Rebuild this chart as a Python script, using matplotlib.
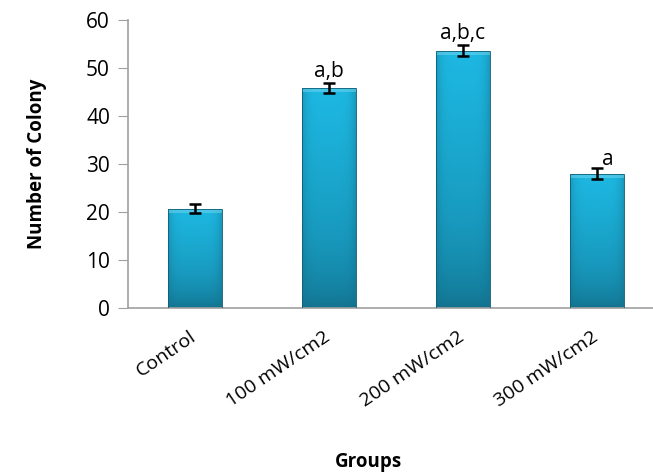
import numpy as np
import matplotlib.pyplot as plt
from matplotlib.colors import LinearSegmentedColormap
from matplotlib.patches import Rectangle
from matplotlib.transforms import offset_copy

# colony counts per group
groups = ['Control', '100 mW/cm2', '200 mW/cm2', '300 mW/cm2']
colonies = [20.7, 45.8, 53.6, 28.0]
errors = [1.0, 1.0, 1.1, 1.1]
letters = ['', 'a,b', 'a,b,c', 'a']

plt.rcParams['font.family'] = ['Open Sans', 'DejaVu Sans']

fig = plt.figure(figsize=(6.53, 4.76), dpi=100)
ax = fig.add_axes([128 / 653, 1 - 308 / 476, 536 / 653, 288 / 476])

x = np.arange(len(groups))
width = 0.4

# gradient fill: lighter at the top, darker toward the base and the edges
cmap = LinearSegmentedColormap.from_list('bar', ['#12708c', '#1898bc', '#1db8e2'])
vert = np.linspace(0, 1, 200)[:, None]
horiz = np.linspace(-1, 1, 60)[None, :]
shade = vert ** 0.6 * (1 - 0.45 * np.abs(horiz) ** 5)

for xi, h in zip(x, colonies):
    # soft drop shadow
    ax.add_patch(Rectangle((xi - width / 2 + 0.012, 0), width, h - 0.3,
                           facecolor='#000000', alpha=0.18, edgecolor='none', zorder=1))
    rect = Rectangle((xi - width / 2, 0), width, h, facecolor='none',
                     edgecolor='#0e5e75', linewidth=0.6, zorder=3)
    ax.add_patch(rect)
    im = ax.imshow(shade, cmap=cmap, vmin=0, vmax=1, origin='lower', aspect='auto',
                   extent=(xi - width / 2, xi + width / 2, 0, h), zorder=2)
    im.set_clip_path(rect)
    # bevel highlight at the top
    ax.add_patch(Rectangle((xi - width / 2, h - 0.9), width, 0.9, facecolor='#6fd3ee',
                           alpha=0.55, edgecolor='none', zorder=2.5))

ax.errorbar(x, colonies, yerr=errors, fmt='none', ecolor='black', elinewidth=1.8,
            capsize=4, capthick=1.8, zorder=4)

for xi, h, e, lab in zip(x, colonies, errors, letters):
    if lab == 'a':
        ax.text(xi + 0.08, h + e - 0.4, lab, ha='center', va='bottom', fontsize=15)
    elif lab:
        ax.text(xi, h + e + 0.3, lab, ha='center', va='bottom', fontsize=15)

ax.set_xlim(-0.5, 3.5)
ax.set_ylim(0, 60)
ax.set_yticks(range(0, 61, 10))
ax.set_xticks(x)
ax.set_xticklabels([])
# rotated group names, anchored a little left of and below each bar centre
lbl_tr = offset_copy(ax.get_xaxis_transform(), fig=fig, x=-4, y=-14, units='points')
for xi, name in zip(x, groups):
    ax.text(xi, 0, name, transform=lbl_tr, rotation=34, ha='right', va='top',
            rotation_mode='anchor', fontsize=14)
ax.tick_params(axis='x', length=0)
ax.tick_params(axis='y', length=7, color='#a0a0a0', labelsize=15, pad=6)
for side in ['top', 'right']:
    ax.spines[side].set_visible(False)
for side in ['left', 'bottom']:
    ax.spines[side].set_color('#a0a0a0')
    ax.spines[side].set_linewidth(1.2)

ax.set_ylabel('Number of Colony', fontsize=13.5, fontweight='bold', labelpad=28)
fig.text(368 / 653, 1 - 462 / 476, 'Groups', ha='center', va='center',
         fontsize=13.5, fontweight='bold')

fig.savefig('out.png', dpi=100)
